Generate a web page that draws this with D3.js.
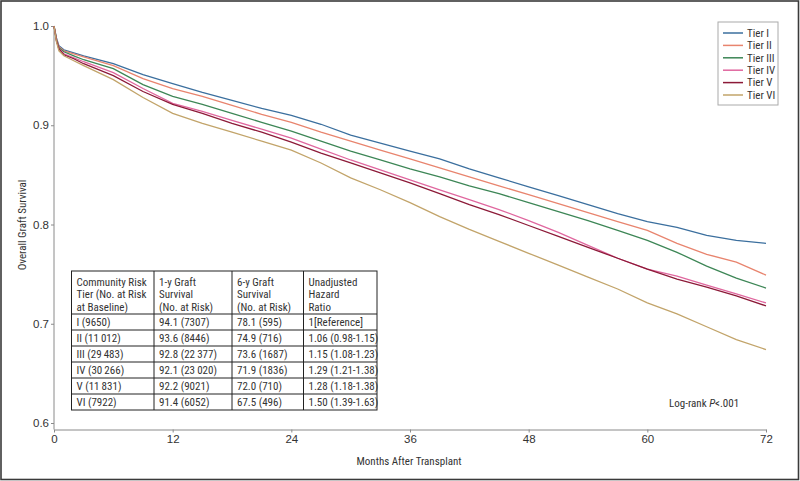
<!DOCTYPE html>
<html>
<head>
<meta charset="utf-8">
<script src="https://cdn.jsdelivr.net/npm/d3@7"></script>
<style>
  html, body { margin: 0; padding: 0; background: #fff; }
  svg { display: block; font-family: "Liberation Sans Narrow", "Arial Narrow", "Roboto Condensed", sans-serif; }
</style>
</head>
<body>
<svg id="chart" width="800" height="481"></svg>
<script>
// ---------------- DATA ----------------
const tierNames = ["Tier I", "Tier II", "Tier III", "Tier IV", "Tier V", "Tier VI"];
const tierColors = ["#3b6f9e", "#e8846e", "#3d8656", "#e0679f", "#8c1a38", "#c2a46a"];

const months = [0, 0.25, 0.5, 1, 2, 3, 6, 9, 12, 15, 18, 21, 24, 27, 30, 33, 36, 39, 42, 45, 48, 51, 54, 57, 60, 63, 66, 69, 72];

const tierI   = [1, 0.988, 0.980, 0.976, 0.973, 0.970, 0.962, 0.951, 0.942, 0.933, 0.925, 0.917, 0.910, 0.901, 0.890, 0.882, 0.874, 0.866, 0.856, 0.847, 0.838, 0.829, 0.820, 0.811, 0.803, 0.797, 0.789, 0.784, 0.781];
const tierII  = [1, 0.987, 0.979, 0.975, 0.972, 0.969, 0.960, 0.947, 0.937, 0.929, 0.920, 0.911, 0.903, 0.893, 0.884, 0.875, 0.866, 0.857, 0.848, 0.839, 0.830, 0.821, 0.812, 0.803, 0.794, 0.781, 0.770, 0.762, 0.749];
const tierIII = [1, 0.986, 0.978, 0.974, 0.970, 0.966, 0.957, 0.941, 0.929, 0.921, 0.912, 0.903, 0.894, 0.884, 0.874, 0.865, 0.856, 0.848, 0.839, 0.831, 0.822, 0.813, 0.804, 0.794, 0.784, 0.772, 0.758, 0.746, 0.736];
const tierIV  = [1, 0.985, 0.977, 0.972, 0.968, 0.964, 0.953, 0.937, 0.922, 0.914, 0.905, 0.896, 0.887, 0.876, 0.865, 0.855, 0.845, 0.835, 0.825, 0.815, 0.804, 0.792, 0.779, 0.766, 0.755, 0.748, 0.739, 0.730, 0.721];
const tierV   = [1, 0.985, 0.977, 0.971, 0.967, 0.962, 0.950, 0.934, 0.921, 0.912, 0.902, 0.893, 0.883, 0.872, 0.862, 0.852, 0.842, 0.831, 0.820, 0.810, 0.799, 0.788, 0.777, 0.766, 0.755, 0.745, 0.737, 0.728, 0.718];
const tierVI  = [1, 0.984, 0.975, 0.970, 0.965, 0.960, 0.946, 0.928, 0.912, 0.902, 0.893, 0.884, 0.875, 0.862, 0.847, 0.835, 0.822, 0.808, 0.795, 0.783, 0.771, 0.759, 0.747, 0.735, 0.721, 0.710, 0.697, 0.684, 0.674];
const seriesValues = [tierI, tierII, tierIII, tierIV, tierV, tierVI];

const xTicks = [0, 12, 24, 36, 48, 60, 72];
const yTicks = [0.6, 0.7, 0.8, 0.9, 1.0];

// table data
const tableHeaders = [
  ["Community Risk", "Tier (No. at Risk", "at Baseline)"],
  ["1-y Graft", "Survival", "(No. at Risk)"],
  ["6-y Graft", "Survival", "(No. at Risk)"],
  ["Unadjusted", "Hazard", "Ratio"]
];
const tierRoman = ["I", "II", "III", "IV", "V", "VI"];
const baselineN = ["9650", "11\u2009012", "29\u2009483", "30\u2009266", "11\u2009831", "7922"];
const oneYearSurv = ["94.1", "93.6", "92.8", "92.1", "92.2", "91.4"];
const oneYearN = ["7307", "8446", "22\u2009377", "23\u2009020", "9021", "6052"];
const sixYearSurv = ["78.1", "74.9", "73.6", "71.9", "72.0", "67.5"];
const sixYearN = ["595", "716", "1687", "1836", "710", "496"];
const hazardRatio = ["1[Reference]", "1.06 (0.98-1.15)", "1.15 (1.08-1.23)", "1.29 (1.21-1.38)", "1.28 (1.18-1.38)", "1.50 (1.39-1.63)"];

// ---------------- DRAW ----------------
const svg = d3.select("#chart");
const W = 800, H = 481;

// outer frame
svg.append("rect").attr("x", 1).attr("y", 1).attr("width", W - 2.5).attr("height", H - 2.5)
  .attr("fill", "none").attr("stroke", "#3a3a3a").attr("stroke-width", 1.6);

const x = d3.scaleLinear().domain([0, 72]).range([54, 766]);
const y = d3.scaleLinear().domain([0.6, 1.0]).range([423, 26]);
const axisColor = "#8a8a8a";

// y axis
const yAxis = svg.append("g").attr("transform", "translate(54,0)")
  .call(d3.axisLeft(y).tickValues(yTicks).tickFormat(d3.format(".1f")).tickSize(3).tickSizeOuter(0));
yAxis.select(".domain").remove();
svg.append("line").attr("x1", 54).attr("x2", 54).attr("y1", 26).attr("y2", 429.5)
  .attr("stroke", axisColor).attr("stroke-width", 1);

// x axis
const xAxis = svg.append("g").attr("transform", "translate(0,429.5)")
  .call(d3.axisBottom(x).tickValues(xTicks).tickSize(3).tickSizeOuter(0));
xAxis.select(".domain").attr("stroke", axisColor);

[yAxis, xAxis].forEach(g => {
  g.selectAll(".tick line").attr("stroke", axisColor);
  g.selectAll(".tick text").attr("fill", "#333").style("font-size", "11.5px")
    .style("font-family", "'Liberation Sans Narrow', 'Arial Narrow', sans-serif");
});
yAxis.selectAll(".tick text").attr("x", -5);
xAxis.selectAll(".tick text").attr("y", 5);

// axis labels
svg.append("text").attr("x", 409).attr("y", 465).attr("text-anchor", "middle")
  .attr("fill", "#333").style("font-size", "11px").text("Months After Transplant");
svg.append("text").attr("transform", "translate(26,225) rotate(-90)").attr("text-anchor", "middle")
  .attr("fill", "#333").style("font-size", "11px").text("Overall Graft Survival");

// lines
const line = d3.line().x(d => x(d[0])).y(d => y(d[1])).curve(d3.curveLinear);
seriesValues.forEach((vals, i) => {
  const pts = months.map((m, j) => [m, vals[j]]);
  svg.append("path").datum(pts).attr("d", line)
    .attr("fill", "none").attr("stroke", tierColors[i]).attr("stroke-width", 1.3);
});

// legend
const lg = svg.append("g");
lg.append("rect").attr("x", 718).attr("y", 22).attr("width", 60).attr("height", 83)
  .attr("fill", "#fff").attr("stroke", "#aaa").attr("stroke-width", 1);
tierNames.forEach((n, i) => {
  const yy = 33 + i * 12.4;
  lg.append("line").attr("x1", 723).attr("x2", 743).attr("y1", yy).attr("y2", yy)
    .attr("stroke", tierColors[i]).attr("stroke-width", 1.5);
  lg.append("text").attr("x", 747).attr("y", yy).attr("dy", "0.35em")
    .attr("fill", "#333").style("font-size", "11px").text(n);
});

// log-rank annotation
const lr = svg.append("text").attr("x", 669).attr("y", 407).attr("fill", "#333").style("font-size", "11px");
lr.append("tspan").text("Log-rank ");
lr.append("tspan").style("font-style", "italic").text("P");
lr.append("tspan").text("<.001");

// table
const colX = [71.5, 154, 232, 303.5, 377];
const tTop = 271, headH = 43, rowH = 16;
const tBottom = tTop + headH + rowH * 6;
const tg = svg.append("g");
tg.append("rect").attr("x", colX[0]).attr("y", tTop).attr("width", colX[4] - colX[0]).attr("height", tBottom - tTop)
  .attr("fill", "#fff").attr("stroke", "#222").attr("stroke-width", 1);
colX.slice(1, 4).forEach(cx => {
  tg.append("line").attr("x1", cx).attr("x2", cx).attr("y1", tTop).attr("y2", tBottom)
    .attr("stroke", "#222").attr("stroke-width", 1);
});
for (let r = 0; r < 6; r++) {
  const ly = tTop + headH + r * rowH;
  tg.append("line").attr("x1", colX[0]).attr("x2", colX[4]).attr("y1", ly).attr("y2", ly)
    .attr("stroke", "#222").attr("stroke-width", 1);
}
tableHeaders.forEach((lines, c) => {
  lines.forEach((t, k) => {
    tg.append("text").attr("x", colX[c] + 5).attr("y", tTop + 11 + k * 12.5).attr("dy", "0.35em")
      .attr("fill", "#333").style("font-size", "11px").text(t);
  });
});
const rows = tierRoman.map((t, i) => [
  `${t} (${baselineN[i]})`,
  `${oneYearSurv[i]} (${oneYearN[i]})`,
  `${sixYearSurv[i]} (${sixYearN[i]})`,
  hazardRatio[i]
]);
rows.forEach((row, r) => {
  const cy = tTop + headH + r * rowH + rowH / 2;
  row.forEach((t, c) => {
    tg.append("text").attr("x", colX[c] + 5).attr("y", cy).attr("dy", "0.35em")
      .attr("fill", "#333").style("font-size", "11px").text(t);
  });
});
</script>
</body>
</html>
